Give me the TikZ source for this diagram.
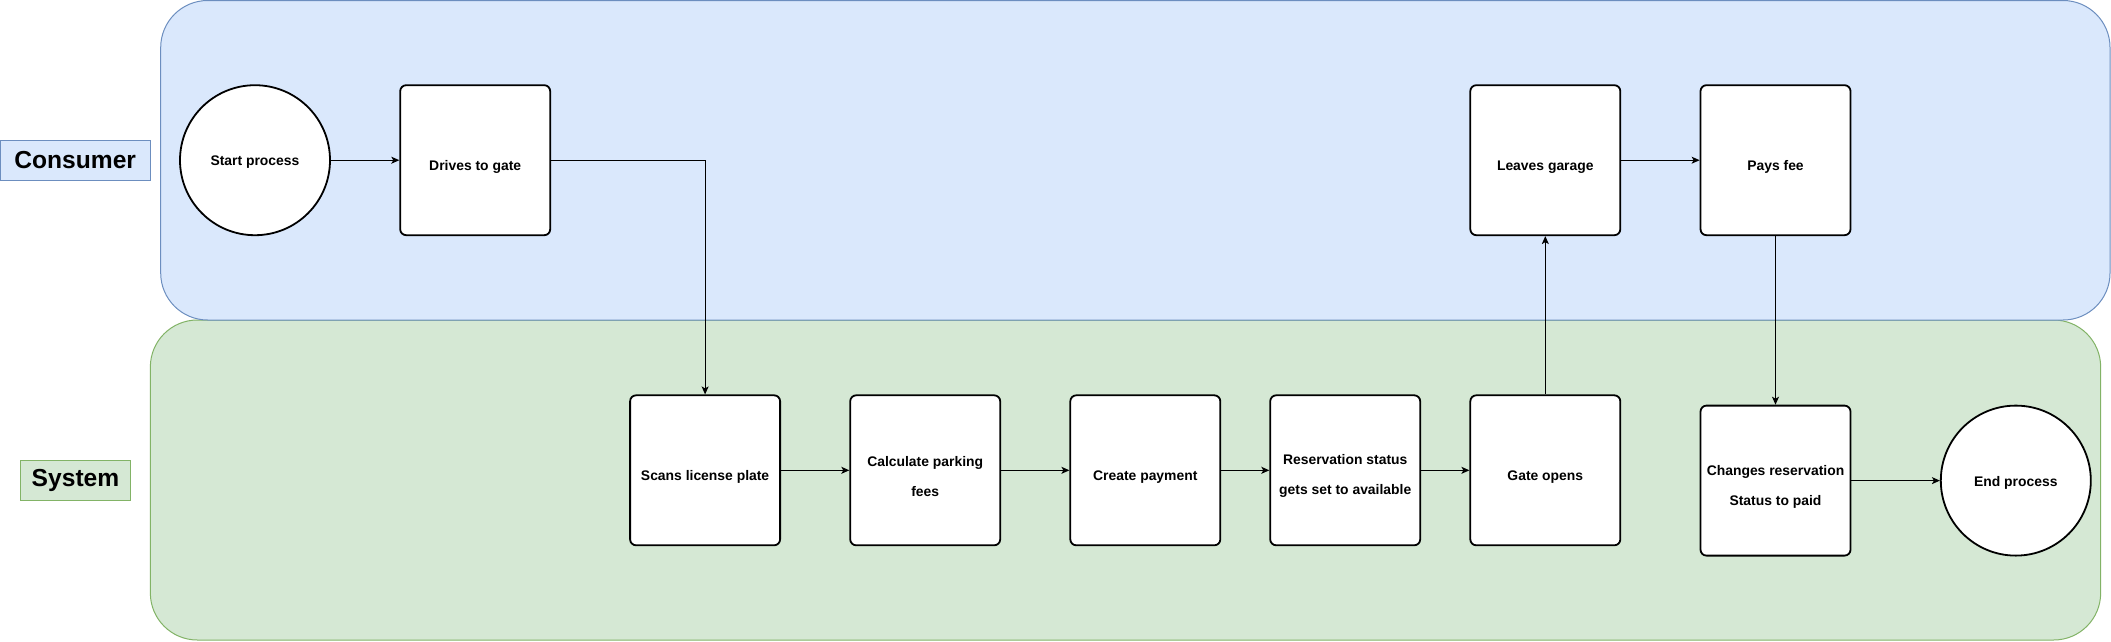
\documentclass[tikz,border=0pt]{standalone}
\usepackage{fontspec}
\setmainfont{Liberation Sans}
\usetikzlibrary{arrows.meta}
\definecolor{bluefill}{HTML}{DAE8FC}
\definecolor{blueline}{HTML}{6C8EBF}
\definecolor{greenfill}{HTML}{D5E8D4}
\definecolor{greenline}{HTML}{82B366}
\tikzset{
  lanebox/.style={draw, line width=1pt, rounded corners=47pt, inner sep=0pt},
  bluelane/.style={lanebox, fill=bluefill, draw=blueline},
  greenlane/.style={lanebox, fill=greenfill, draw=greenline},
  lanelabel/.style={draw, line width=1pt, inner sep=0pt, minimum height=40pt,
    font=\fontsize{24.6}{28}\selectfont\bfseries},
  stepbox/.style={draw=black, fill=white, line width=1.8pt, rounded corners=6pt,
    minimum width=150pt, minimum height=150pt, inner sep=0pt},
  boxtext/.style={font=\fontsize{13.9}{30}\selectfont\bfseries, align=center},
  terminal/.style={draw=black, fill=white, circle, line width=1.8pt,
    minimum size=150pt, inner sep=0pt},
  flow/.style={draw=black, line width=1pt, -{Stealth[length=8pt,width=7pt,inset=2pt]}}
}
\begin{document}
\begin{tikzpicture}[x=1pt,y=-1pt]
\useasboundingbox (0,0) rectangle (2111,641);
% lanes
\node[greenlane, minimum width=1950.3pt, minimum height=320pt] (systemlane) at (1125.5,480) {};
\node[bluelane, minimum width=1949.3pt, minimum height=319.5pt] (consumerlane) at (1135.35,160.25) {};
% lane labels
\node[lanelabel, fill=bluefill, draw=blueline, minimum width=150.4pt] (consumerlabel) at (75.2,160.2) {Consumer};
\node[lanelabel, fill=greenfill, draw=greenline, minimum width=110pt] (systemlabel) at (75.5,480.3) {System};
% consumer lane
\node[terminal, label={[boxtext, yshift=-2pt]center:Start process}] (start) at (255,160.2) {};
\node[stepbox, label={[boxtext, yshift=-6.5pt]center:Drives to gate}] (drive) at (475.2,160.2) {};
\node[stepbox, label={[boxtext, yshift=-6.5pt]center:Leaves garage}] (leaves) at (1545.3,160.2) {};
\node[stepbox, label={[boxtext, yshift=-6.5pt]center:Pays fee}] (pays) at (1775.5,160.2) {};
% system lane
\node[stepbox, label={[boxtext, yshift=-6.5pt]center:Scans license plate}] (scans) at (705.1,470.3) {};
\node[stepbox, label={[boxtext, yshift=-6pt]center:Calculate parking\\fees}] (calc) at (925.2,470.3) {};
\node[stepbox, label={[boxtext, yshift=-6.5pt]center:Create payment}] (create) at (1145.3,470.3) {};
\node[stepbox, label={[boxtext, yshift=-6pt]center:Reservation status\\gets set to available}] (reserve) at (1345.2,470.3) {};
\node[stepbox, label={[boxtext, yshift=-6.5pt]center:Gate opens}] (gate) at (1545.3,470.3) {};
\node[stepbox, label={[boxtext, yshift=-6pt]center:Changes reservation\\Status to paid}] (changes) at (1775.5,480.6) {};
\node[terminal, label={[boxtext, yshift=-2pt]center:End process}] (finish) at (2015.8,480.6) {};
% connectors
\draw[flow] (start) -- (drive);
\draw[flow] (drive.east) -| (scans.north);
\draw[flow] (scans) -- (calc);
\draw[flow] (calc) -- (create);
\draw[flow] (create) -- (reserve);
\draw[flow] (reserve) -- (gate);
\draw[flow] (gate) -- (leaves);
\draw[flow] (leaves) -- (pays);
\draw[flow] (pays) -- (changes);
\draw[flow] (changes) -- (finish);
\end{tikzpicture}
\end{document}
